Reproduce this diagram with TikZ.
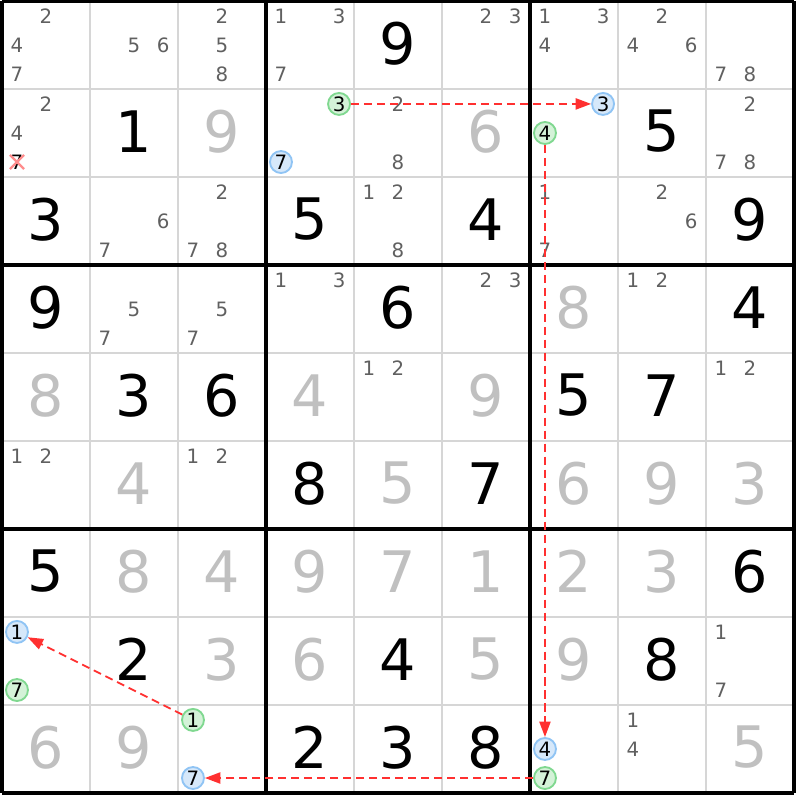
\documentclass[tikz,border=0pt]{standalone}
\usepackage{fontspec}
\setmainfont{DejaVu Sans}
\usetikzlibrary{arrows.meta}

\definecolor{candgray}{HTML}{606060}
\definecolor{solvedgray}{HTML}{C0C0C0}
\definecolor{linegray}{HTML}{D6D6D6}
\definecolor{linkred}{HTML}{FF3030}
\definecolor{onfill}{HTML}{D4F2D8}
\definecolor{ondraw}{HTML}{80D890}
\definecolor{offfill}{HTML}{D6E8FA}
\definecolor{offdraw}{HTML}{90C4F4}

\tikzset{
  given/.style={font=\fontsize{18.5}{20}\selectfont, inner sep=0pt},
  solved/.style={given, text=solvedgray},
  cand/.style={font=\fontsize{6.4}{7}\selectfont, text=candgray, inner sep=0pt},
  oncand/.style={cand, text=black, circle, draw=ondraw, fill=onfill, minimum size=0.25cm, line width=0.6pt},
  offcand/.style={oncand, draw=offdraw, fill=offfill},
  link/.style={draw=linkred, dash pattern=on 2.6pt off 1.6pt, line width=0.6pt, -{Triangle[length=5pt,width=3.6pt,fill=linkred]}},
  crossmark/.style={draw=red!45, line width=0.7pt},
}

\begin{document}
\begin{tikzpicture}
\useasboundingbox (-0.023,-9.08) rectangle (9.068,0.011);

\draw[linegray, line width=0.6pt] (0,-9) grid (9,0);
\draw[black, line width=1pt, step=3] (0,-9) grid (9,0);

% givens
\foreach \r/\c/\d in {1/5/9, 2/2/1, 2/8/5, 3/1/3, 3/4/5, 3/6/4, 3/9/9, 4/1/9, 4/5/6, 4/9/4,
  5/2/3, 5/3/6, 5/7/5, 5/8/7, 6/4/8, 6/6/7, 7/1/5, 7/9/6, 8/2/2, 8/5/4, 8/8/8, 9/4/2, 9/5/3, 9/6/8}
  \node[given] (d-\r-\c) at (\c-0.5,0.52-\r) {\d};

% solved
\foreach \r/\c/\d in {2/3/9, 2/6/6, 4/7/8, 5/1/8, 5/4/4, 5/6/9, 6/2/4, 6/5/5, 6/7/6, 6/8/9, 6/9/3,
  7/2/8, 7/3/4, 7/4/9, 7/5/7, 7/6/1, 7/7/2, 7/8/3, 8/3/3, 8/4/6, 8/6/5, 8/7/9, 9/1/6, 9/2/9, 9/9/5}
  \node[solved] (d-\r-\c) at (\c-0.5,0.52-\r) {\d};

% candidates
\foreach \r/\c/\list in {1/1/{2,4,7}, 1/2/{5,6}, 1/3/{2,5,8}, 1/4/{1,3,7}, 1/6/{2,3}, 1/7/{1,3,4},
  1/8/{2,4,6}, 1/9/{7,8}, 2/1/{2,4}, 2/5/{2,8}, 2/9/{2,7,8}, 3/2/{6,7}, 3/3/{2,7,8}, 3/5/{1,2,8},
  3/7/{1,7}, 3/8/{2,6}, 4/2/{5,7}, 4/3/{5,7}, 4/4/{1,3}, 4/6/{2,3}, 4/8/{1,2}, 5/5/{1,2},
  5/9/{1,2}, 6/1/{1,2}, 6/3/{1,2}, 8/9/{1,7}, 9/8/{1,4}}
  \foreach \d in \list
    \node[cand] (c-\r-\c-\d) at ({\c-0.5+0.33*(mod(\d-1,3)-1)},{0.5-\r-0.33*(floor((\d-1)/3)-1)}) {\d};

% eliminated candidate
\node[cand, text=black] (x7) at (0.17,-1.83) {7};
\draw[crossmark] (x7.center) +(-0.08,0.08) -- +(0.08,-0.08);
\draw[crossmark] (x7.center) +(-0.08,-0.08) -- +(0.08,0.08);

% chain
\node[oncand] (on3) at (3.83,-1.17) {3};
\node[offcand] (off7a) at (3.17,-1.83) {7};
\node[offcand] (off3) at (6.83,-1.17) {3};
\node[oncand] (on4) at (6.17,-1.5) {4};
\node[offcand] (off4) at (6.17,-8.5) {4};
\node[oncand] (on7) at (6.17,-8.83) {7};
\node[offcand] (off7) at (2.17,-8.83) {7};
\node[oncand] (on1) at (2.17,-8.17) {1};
\node[offcand] (off1) at (0.17,-7.17) {1};
\node[oncand] (on7a) at (0.17,-7.83) {7};

\draw[link] (on3) -- (off3);
\draw[link] (on4) -- (off4);
\draw[link] (on7) -- (off7);
\draw[link] (on1) -- (off1);
\end{tikzpicture}
\end{document}
